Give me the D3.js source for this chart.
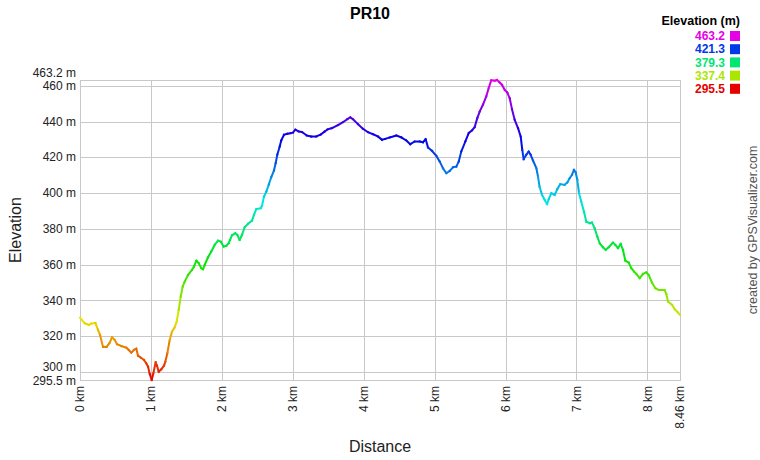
<!DOCTYPE html>
<html>
<head>
<meta charset="utf-8">
<script src="https://cdn.jsdelivr.net/npm/d3@7"></script>
<style>
  body { margin: 0; background: #fff; }
  svg text { font-family: Arial, "Liberation Sans", sans-serif; }
</style>
</head>
<body>
<svg id="chart" width="760" height="460"></svg>
<script>
// profile: distance (km) and elevation (m)
const distKm = [0, 0.066, 0.123, 0.159, 0.216, 0.254, 0.282, 0.324, 0.376, 0.419, 0.451, 0.489, 0.522, 0.582, 0.653, 0.687, 0.723, 0.761, 0.794, 0.818, 0.856, 0.902, 0.935, 0.959, 0.983, 1.011, 1.034, 1.067, 1.086, 1.110, 1.146, 1.184, 1.203, 1.231, 1.265, 1.297, 1.335, 1.363, 1.392, 1.420, 1.448, 1.476, 1.523, 1.579, 1.607, 1.640, 1.674, 1.710, 1.734, 1.758, 1.805, 1.851, 1.899, 1.946, 1.984, 2.026, 2.063, 2.097, 2.115, 2.143, 2.190, 2.218, 2.251, 2.284, 2.322, 2.369, 2.425, 2.453, 2.486, 2.548, 2.566, 2.594, 2.627, 2.661, 2.697, 2.735, 2.759, 2.782, 2.816, 2.838, 2.876, 2.923, 2.971, 3.003, 3.036, 3.084, 3.130, 3.197, 3.261, 3.332, 3.394, 3.450, 3.487, 3.553, 3.638, 3.708, 3.769, 3.811, 3.849, 3.920, 3.990, 4.061, 4.131, 4.202, 4.258, 4.305, 4.367, 4.460, 4.530, 4.601, 4.657, 4.719, 4.790, 4.836, 4.874, 4.907, 4.963, 5.024, 5.072, 5.118, 5.165, 5.213, 5.259, 5.306, 5.340, 5.376, 5.433, 5.481, 5.527, 5.565, 5.602, 5.636, 5.682, 5.729, 5.763, 5.799, 5.847, 5.880, 5.918, 5.950, 5.988, 6.025, 6.059, 6.091, 6.129, 6.176, 6.214, 6.236, 6.256, 6.292, 6.326, 6.354, 6.387, 6.434, 6.458, 6.480, 6.514, 6.552, 6.585, 6.609, 6.645, 6.693, 6.730, 6.772, 6.834, 6.871, 6.905, 6.937, 6.965, 6.989, 7.012, 7.036, 7.068, 7.106, 7.139, 7.187, 7.219, 7.257, 7.294, 7.328, 7.374, 7.412, 7.455, 7.515, 7.548, 7.586, 7.624, 7.656, 7.689, 7.737, 7.774, 7.812, 7.844, 7.892, 7.939, 7.985, 8.019, 8.066, 8.112, 8.160, 8.244, 8.267, 8.291, 8.347, 8.385, 8.432, 8.46];
const elevM = [330.4, 327.2, 326.3, 327, 327.4, 323.5, 320.7, 314.1, 314, 316.4, 319.4, 317.9, 315.5, 314.5, 313.6, 312.3, 310.8, 312.3, 313, 309.1, 308, 306.7, 304.8, 303, 298.9, 295.5, 299.2, 305.4, 303.5, 300.1, 301.5, 303.5, 305.7, 310.4, 317.9, 322.5, 325, 328.1, 334.7, 342.1, 347.7, 350.5, 354.2, 357, 358.9, 362.2, 360.8, 358, 357.4, 359.8, 364.1, 367.3, 371, 373.4, 372.9, 370.1, 370.5, 372, 373.8, 376.4, 377.6, 376.6, 373.8, 376.6, 380.9, 382.8, 384.6, 387.8, 391, 391.5, 392.8, 398, 400.8, 404.6, 408.9, 412.6, 416.7, 421.4, 426, 429.4, 432.6, 433.1, 433.5, 433.8, 435.4, 434.4, 434.1, 432.2, 431.6, 431.6, 432.7, 434.4, 435.5, 436.3, 438, 439.6, 441.3, 442.3, 441.3, 438.5, 435.9, 434, 432.9, 431.6, 429.8, 430.3, 431.1, 432.2, 431.1, 429.4, 427.3, 428.8, 428.8, 428.4, 430.1, 425.5, 423.6, 420.8, 417.6, 413.9, 411.1, 412.4, 414.4, 414.8, 417.6, 423.2, 428.8, 433.5, 435, 436.9, 441.9, 445.6, 449.4, 454.1, 458.8, 463.0, 462.8, 463.2, 461.8, 460.5, 457.7, 456.2, 453, 446.9, 440.9, 436.3, 431.6, 424.1, 418.9, 421.4, 423.2, 421.4, 418.2, 414, 409.2, 403.6, 399, 396.2, 393.8, 396.6, 399.9, 399, 402.2, 405, 404.6, 405.9, 408.3, 410.2, 413, 411.5, 407.4, 399.9, 395.2, 389.6, 384, 383.1, 383.5, 380.3, 375.7, 371.9, 369.7, 368.2, 369.7, 372.3, 371, 369.2, 371.6, 368.2, 362.2, 361.1, 358, 356.1, 354.8, 352.4, 354.8, 355.7, 354.2, 349.9, 346.8, 345.8, 345.8, 343.6, 339.3, 337.5, 335.1, 333.2, 331.9];

const minElev = 295.5;
const maxElev = 463.2;
const totalKm = 8.46;
const xTicks = [0, 1, 2, 3, 4, 5, 6, 7, 8];
const yTicks = [300, 320, 340, 360, 380, 400, 420, 440, 460];
const legendValues = [463.2, 421.3, 379.3, 337.4, 295.5];

const svg = d3.select("#chart");
const margin = {top: 80, left: 80, right: 80, bottom: 80};
const width = 760, height = 460;
const innerW = width - margin.left - margin.right;   // 600
const innerH = height - margin.top - margin.bottom;  // 300

const x = d3.scaleLinear().domain([0, totalKm]).range([margin.left, margin.left + innerW]);
const y = d3.scaleLinear().domain([minElev, maxElev]).range([margin.top + innerH, margin.top]);

// rainbow: red at the lowest point, magenta at the highest
const hue = d3.scaleLinear().domain([minElev, maxElev]).range([0, 300]);
const colorOf = e => d3.hsl(hue(e), 1, 0.45).toString();

const grid = svg.append("g").attr("stroke", "#c8c8c8").attr("stroke-width", 1).attr("shape-rendering", "crispEdges");

grid.selectAll(".hgrid")
  .data(yTicks)
  .enter().append("line")
  .attr("x1", margin.left).attr("x2", margin.left + innerW)
  .attr("y1", d => Math.round(y(d)) + 0.5).attr("y2", d => Math.round(y(d)) + 0.5);

grid.selectAll(".vgrid")
  .data(xTicks)
  .enter().append("line")
  .attr("y1", margin.top).attr("y2", margin.top + innerH)
  .attr("x1", d => Math.round(x(d)) + 0.5).attr("x2", d => Math.round(x(d)) + 0.5);

// plot frame
grid.append("rect")
  .attr("x", margin.left + 0.5).attr("y", margin.top + 0.5)
  .attr("width", innerW).attr("height", innerH)
  .attr("fill", "none");

// y tick labels, plus the min / max labels at the ends
const yLab = svg.append("g").attr("font-size", 12).attr("fill", "#222").attr("text-anchor", "end");
yTicks.forEach(t => {
  let yy = y(t);
  if (t == 300) yy -= 5;  // nudge so it does not sit on the min label
  yLab.append("text").attr("x", 76).attr("y", yy).attr("dy", "0.35em").text(t + " m");
});
yLab.append("text").attr("x", 76).attr("y", y(maxElev) - 7).attr("dy", "0.35em").text(maxElev + " m");
yLab.append("text").attr("x", 76).attr("y", y(minElev) + 1).attr("dy", "0.35em").text(minElev + " m");

// x tick labels, rotated
const xLab = svg.append("g").attr("font-size", 12).attr("fill", "#222").attr("text-anchor", "end");
xTicks.concat([totalKm]).forEach(t => {
  xLab.append("text")
    .attr("transform", `translate(${x(t)},${margin.top + innerH + 6}) rotate(-90)`)
    .attr("dy", "0.35em")
    .text(t + " km");
});

// profile, one short segment per step so each gets its own colour
const pts = distKm.map((d, i) => [d, elevM[i]]);
const segs = d3.pairs(pts);
svg.append("g")
  .attr("stroke-width", 2)
  .attr("stroke-linecap", "square")
  .selectAll("line")
  .data(segs)
  .enter().append("line")
  .attr("x1", d => x(d[0][0])).attr("y1", d => y(d[0][1]))
  .attr("x2", d => x(d[1][0])).attr("y2", d => y(d[1][1]))
  .attr("stroke", d => colorOf((d[0][1] + d[1][1]) / 2));

// titles
svg.append("text")
  .attr("x", 370).attr("y", 19)
  .attr("text-anchor", "middle")
  .attr("font-size", 16).attr("font-weight", "bold").attr("fill", "#000")
  .text("PR10");

svg.append("text")
  .attr("x", 380).attr("y", 452)
  .attr("text-anchor", "middle")
  .attr("font-size", 16).attr("fill", "#222")
  .text("Distance");

svg.append("text")
  .attr("transform", "translate(21,230) rotate(-90)")
  .attr("text-anchor", "middle")
  .attr("font-size", 16).attr("fill", "#222")
  .text("Elevation");

svg.append("text")
  .attr("transform", "translate(757,230) rotate(-90)")
  .attr("text-anchor", "middle")
  .attr("font-size", 12.5).attr("fill", "#555")
  .text("created by GPSVisualizer.com");

// legend
const legend = svg.append("g");
legend.append("text")
  .attr("x", 740).attr("y", 25)
  .attr("text-anchor", "end")
  .attr("font-size", 12.5).attr("font-weight", "bold").attr("fill", "#000")
  .text("Elevation (m)");

legendValues.forEach((v, i) => {
  const cy = 36 + i * 13.2;
  legend.append("text")
    .attr("x", 725).attr("y", cy).attr("dy", "0.35em")
    .attr("text-anchor", "end")
    .attr("font-size", 12).attr("font-weight", "bold")
    .attr("fill", colorOf(v))
    .text(v.toFixed(1));
  legend.append("rect")
    .attr("x", 730).attr("y", cy - 5)
    .attr("width", 10).attr("height", 10)
    .attr("fill", colorOf(v));
});
</script>
</body>
</html>
